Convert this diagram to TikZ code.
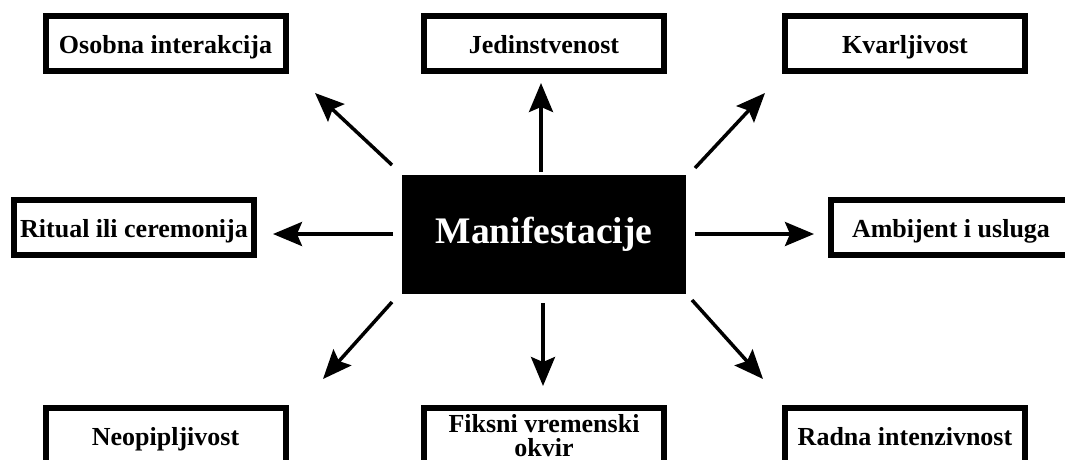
\documentclass[tikz,border=0pt]{standalone}
\usepackage{fontspec}
\setmainfont{Liberation Serif}
\usetikzlibrary{arrows.meta}

\begin{document}
\begin{tikzpicture}[x=1pt, y=-1pt,
    box/.style={draw, line width=6pt, minimum width=240pt, minimum height=55pt, inner sep=0pt, align=center, text height=22pt, text depth=2pt, font=\fontsize{26}{24}\selectfont\bfseries},
    arr/.style={line width=3.5pt, -{Stealth[length=29pt, width=24pt, inset=5pt]}}]

    \useasboundingbox (0, 0) rectangle (1065, 459);
    \clip (0, 0) rectangle (1065, 459);

    % centre
    \node[fill=black, text=white, minimum width=284pt, minimum height=119pt, inner sep=0pt, font=\fontsize{37.5}{40}\selectfont\bfseries] (man) at (544, 234.5) {Manifestacije};

    % top row
    \node[box] (osobna) at (165.5, 43) {Osobna interakcija};
    \node[box] (jedin) at (544, 43.5) {Jedinstvenost};
    \node[box] (kvar) at (905, 43) {Kvarljivost};

    % middle row
    \node[box] (ritual) at (134, 227.5) {Ritual ili ceremonija};
    \node[box] (ambijent) at (951, 227.5) {Ambijent i usluga};

    % bottom row
    \node[box] (neopip) at (165.5, 435.5) {Neopipljivost};
    \node[box, text height=, text depth=] (fiksni) at (544, 435.5) {\raisebox{-5pt}{\parbox{240pt}{\centering Fiksni vremenski\\okvir}}};
    \node[box] (radna) at (905, 435.5) {Radna intenzivnost};

    % arrow ends
    \coordinate (nwA) at (392, 165);  \coordinate (nwB) at (315, 93);
    \coordinate (nA) at (541, 172);   \coordinate (nB) at (541, 83);
    \coordinate (neA) at (695, 168);  \coordinate (neB) at (765, 93);
    \coordinate (wA) at (393, 234);   \coordinate (wB) at (273, 234);
    \coordinate (eA) at (695, 234);   \coordinate (eB) at (814, 234);
    \coordinate (swA) at (392, 302);  \coordinate (swB) at (323, 379);
    \coordinate (sA) at (543, 303);   \coordinate (sB) at (543, 386);
    \coordinate (seA) at (692, 300);  \coordinate (seB) at (763, 379);

    \draw[arr] (nwA) -- (nwB);
    \draw[arr] (nA) -- (nB);
    \draw[arr] (neA) -- (neB);
    \draw[arr] (wA) -- (wB);
    \draw[arr] (eA) -- (eB);
    \draw[arr] (swA) -- (swB);
    \draw[arr] (sA) -- (sB);
    \draw[arr] (seA) -- (seB);

\end{tikzpicture}
\end{document}
